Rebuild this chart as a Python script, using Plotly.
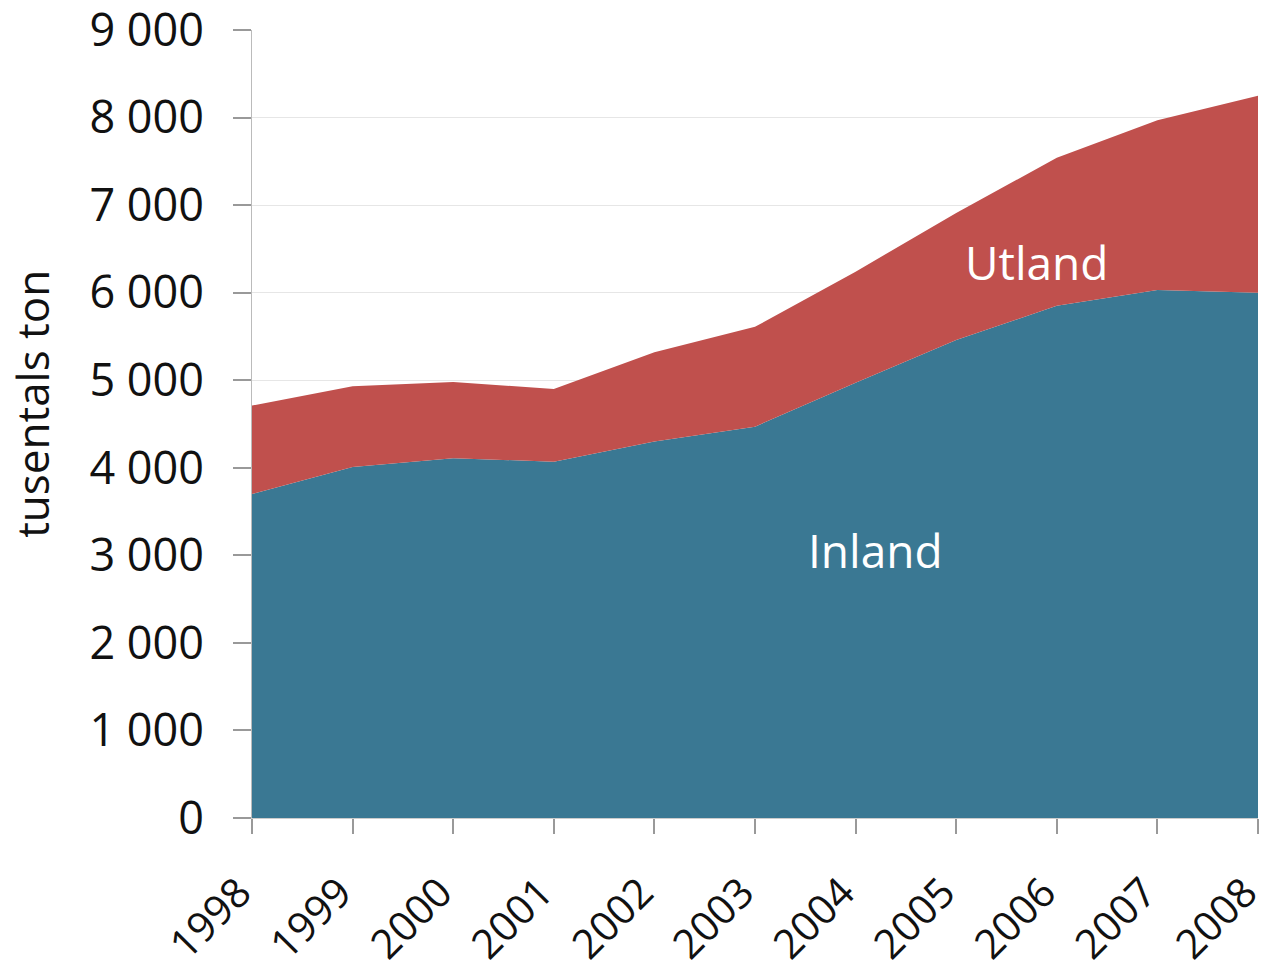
import plotly.graph_objects as go

years = [1998, 1999, 2000, 2001, 2002, 2003, 2004, 2005, 2006, 2007, 2008]
inland = [3700, 4010, 4110, 4070, 4300, 4470, 4970, 5460, 5850, 6030, 6000]
utland = [1010, 920, 870, 830, 1020, 1140, 1270, 1450, 1690, 1940, 2250]
y_ticks = [0, 1000, 2000, 3000, 4000, 5000, 6000, 7000, 8000, 9000]

FONT = "Open Sans"
fig = go.Figure()
fig.add_trace(go.Scatter(x=years, y=inland, name="Inland", stackgroup="one",
                         mode="lines", line=dict(width=0, color="#3a7893"),
                         fillcolor="#3a7893"))
fig.add_trace(go.Scatter(x=years, y=utland, name="Utland", stackgroup="one",
                         mode="lines", line=dict(width=0, color="#c0504d"),
                         fillcolor="#c0504d"))

fig.add_annotation(x=2005.8, y=6350, text="Utland", showarrow=False,
                   font=dict(family=FONT, size=46, color="white"))
fig.add_annotation(x=2004.2, y=3060, text="Inland", showarrow=False,
                   font=dict(family=FONT, size=46, color="white"))
fig.add_annotation(xref="paper", x=0, xshift=-220, xanchor="center",
                   y=4730, yref="y", yanchor="middle",
                   text="tusentals ton", textangle=-90, showarrow=False,
                   font=dict(family=FONT, size=44, color="#111111"))

fig.update_layout(
    width=1270, height=975,
    margin=dict(l=252, r=12, t=30, b=157),
    plot_bgcolor="white", paper_bgcolor="white",
    showlegend=False,
    separators=", ",
    font=dict(family=FONT, color="#111111"),
)
fig.update_xaxes(
    range=[1998, 2008], tickmode="array", tickvals=years,
    ticktext=[str(y) for y in years], tickangle=-45,
    tickfont=dict(size=41), ticks="outside", ticklen=15, tickcolor="#999999",
    tickwidth=2, ticklabeloverflow="allow", automargin=False,
    ticklabelstandoff=18, ticklabelshift=-13,
    showgrid=False, showline=True, linecolor="#cccccc", zeroline=False,
)
fig.update_yaxes(
    range=[0, 9000], tickvals=y_ticks, tickformat=",d",
    tickfont=dict(size=45), ticks="outside", ticklen=18, tickcolor="#999999",
    tickwidth=2, ticklabeloverflow="allow", automargin=False,
    ticklabelstandoff=20,
    showgrid=True, gridcolor="#e6e6e6", showline=True, linecolor="#bbbbbb",
    zeroline=False,
)
fig.write_html(
    "out.html",
    config={"displayModeBar": False},
    post_script="document.body.style.margin='0';document.body.style.overflow='hidden';",
)
